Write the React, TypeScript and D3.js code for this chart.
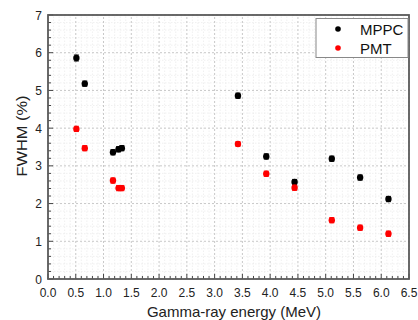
import * as d3 from "d3";

const energies = [0.511, 0.662, 1.17, 1.27, 1.33, 3.42, 3.93, 4.44, 5.11, 5.62, 6.13];
const mppcFwhm = [5.86, 5.18, 3.36, 3.44, 3.47, 4.86, 3.25, 2.57, 3.19, 2.69, 2.12];
const mppcErr = [0.08, 0.07, 0.07, 0.07, 0.07, 0.07, 0.07, 0.07, 0.07, 0.07, 0.07];
const pmtFwhm = [3.98, 3.47, 2.61, 2.41, 2.41, 3.58, 2.79, 2.42, 1.56, 1.36, 1.2];
const pmtErr = [0.07, 0.07, 0.07, 0.07, 0.07, 0.06, 0.07, 0.07, 0.07, 0.07, 0.07];
const xTicks = [0, 0.5, 1, 1.5, 2, 2.5, 3, 3.5, 4, 4.5, 5, 5.5, 6, 6.5];
const yTicks = [0, 1, 2, 3, 4, 5, 6, 7];

const series = [
  { name: "MPPC", color: "#000000", values: mppcFwhm, errors: mppcErr },
  { name: "PMT", color: "#ff0000", values: pmtFwhm, errors: pmtErr },
];

const W = 418;
const H = 320;
const margin = { left: 48, right: 9, top: 15, bottom: 41 };
const font = "'Liberation Sans', Arial, sans-serif";

export default function App() {
  const x = d3.scaleLinear().domain([0, 6.5]).range([margin.left, W - margin.right]);
  const y = d3.scaleLinear().domain([0, 7]).range([H - margin.bottom, margin.top]);
  const [x0, x1] = x.range();
  const [y0, y1] = y.range();
  // minor steps: 0.1 on x, 0.2 on y
  const xMinor = d3.range(0, 65.01, 1).map((d) => d / 10).filter((d) => Math.round(d * 10) % 5 !== 0);
  const yMinor = d3.range(0, 35.01, 1).map((d) => d / 5).filter((d) => Math.round(d * 5) % 5 !== 0);

  return (
    <div style={{ position: "fixed", left: 0, top: 0 }}>
      <svg width={W} height={H} viewBox={`0 0 ${W} ${H}`} style={{ display: "block", background: "#fff" }}>
        <g stroke="#ececec" strokeWidth={0.8} strokeDasharray="1.5,1.5">
          {xMinor.map((d) => (
            <line key={`xm${d}`} x1={x(d)} x2={x(d)} y1={y0} y2={y1} />
          ))}
          {yMinor.map((d) => (
            <line key={`ym${d}`} x1={x0} x2={x1} y1={y(d)} y2={y(d)} />
          ))}
        </g>
        <g stroke="#c8c8c8" strokeWidth={1} strokeDasharray="2,2">
          {xTicks.map((d) => (
            <line key={`xg${d}`} x1={x(d)} x2={x(d)} y1={y0} y2={y1} />
          ))}
          {yTicks.map((d) => (
            <line key={`yg${d}`} x1={x0} x2={x1} y1={y(d)} y2={y(d)} />
          ))}
        </g>
        <g stroke="#444" strokeWidth={1}>
          {xTicks.map((d) => (
            <line key={`xt${d}`} x1={x(d)} x2={x(d)} y1={y0} y2={y0 - 5} />
          ))}
          {xMinor.map((d) => (
            <line key={`xmt${d}`} x1={x(d)} x2={x(d)} y1={y0} y2={y0 - 3} />
          ))}
          {yTicks.map((d) => (
            <line key={`yt${d}`} x1={x0} x2={x0 + 5} y1={y(d)} y2={y(d)} />
          ))}
          {yMinor.map((d) => (
            <line key={`ymt${d}`} x1={x0} x2={x0 + 3} y1={y(d)} y2={y(d)} />
          ))}
        </g>
        <rect x={x0} y={y1} width={x1 - x0} height={y0 - y1} fill="none" stroke="#5a5a5a" strokeWidth={1.8} />
        <g fontFamily={font} fontSize={12} fill="#222">
          {xTicks.map((d) => (
            <text key={`xl${d}`} x={x(d)} y={y0 + 18} textAnchor="middle">
              {d.toFixed(1)}
            </text>
          ))}
          {yTicks.map((d) => (
            <text key={`yl${d}`} x={x0 - 6} y={y(d) + 4.5} textAnchor="end">
              {d}
            </text>
          ))}
        </g>
        <text x={234} y={317} textAnchor="middle" fontFamily={font} fontSize={15} fill="#222">
          Gamma-ray energy (MeV)
        </text>
        <text
          transform="translate(26.5,136) rotate(-90)"
          textAnchor="middle"
          fontFamily={font}
          fontSize={15}
          textLength={81}
          lengthAdjust="spacingAndGlyphs"
          fill="#222"
        >
          FWHM (%)
        </text>
        {series.map((s) => (
          <g key={s.name}>
            {s.values.map((v, i) => (
              <g key={i} stroke={s.color} strokeWidth={1} opacity={0.9}>
                <line x1={x(energies[i])} x2={x(energies[i])} y1={y(v - s.errors[i])} y2={y(v + s.errors[i])} />
                <line x1={x(energies[i]) - 2.5} x2={x(energies[i]) + 2.5} y1={y(v - s.errors[i])} y2={y(v - s.errors[i])} />
                <line x1={x(energies[i]) - 2.5} x2={x(energies[i]) + 2.5} y1={y(v + s.errors[i])} y2={y(v + s.errors[i])} />
              </g>
            ))}
            {s.values.map((v, i) => (
              <circle key={`c${i}`} cx={x(energies[i])} cy={y(v)} r={3.2} fill={s.color} />
            ))}
          </g>
        ))}
        <g>
          <rect x={316} y={18.5} width={92} height={39} fill="#fff" stroke="#888" strokeWidth={1} />
          {series.map((s, i) => (
            <g key={s.name}>
              <circle cx={338} cy={29 + i * 19} r={2.8} fill={s.color} />
              <text x={360} y={34.5 + i * 19} fontFamily={font} fontSize={15} fill="#111">
                {s.name}
              </text>
            </g>
          ))}
        </g>
      </svg>
    </div>
  );
}
